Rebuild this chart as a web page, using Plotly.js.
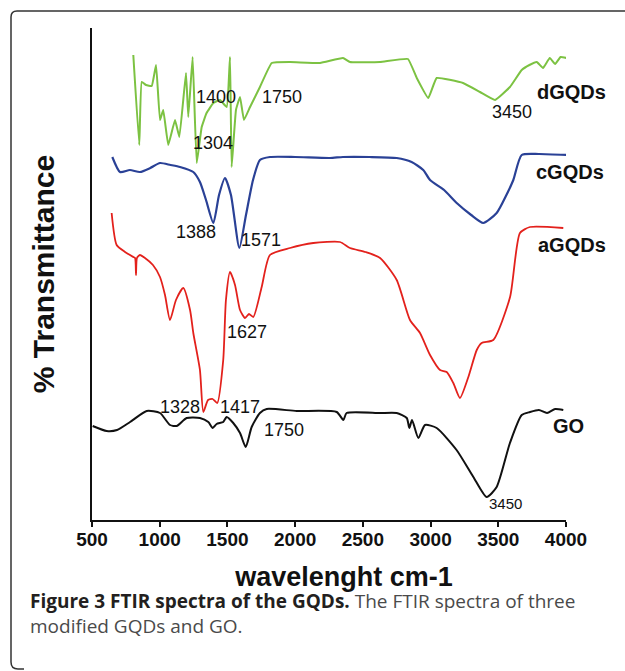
<!DOCTYPE html>
<html>
<head>
<meta charset="utf-8">
<script src="https://cdn.plot.ly/plotly-3.0.1.min.js"></script>
<style>html,body{margin:0;padding:0;background:#fff;}#chart{width:625px;height:671px;}</style>
</head>
<body>
<div id="chart"></div>
<script>
// ---- Data (wavenumber cm-1, transmittance in arbitrary offset units) ----
const dGQDs_wn = [805,849,867,899,941,973,1002,1026,1063,1113,1145,1194,1211,1243,1273,1310,1346,1396,1445,1495,1519,1531,1563,1593,1622,1667,1740,1827,1962,2184,2353,2405,2627,2833,2898,2983,3045,3240,3365,3476,3586,3673,3730,3784,3830,3880,3920,3960,4005];
const dGQDs_T  = [465,375,438,435,434,455,400,410,375,400,383,447,403,463,357,393,407,417,420,413,463,353,410,423,400,413,433,457,458,457,462,458,458,461,442,422,442,437,428,420,433,450,455,458,452,462,456,463,462];

const cGQDs_wn = [650,707,780,854,930,1002,1080,1150,1248,1297,1342,1396,1438,1482,1526,1588,1637,1689,1740,1814,2000,2257,2353,2550,2750,2860,2946,2996,3100,3193,3300,3389,3488,3560,3611,3673,3800,4005];
const cGQDs_T  = [363,348,350,348,352,357,355,353,348,338,320,297,325,342,325,272,305,340,360,363,363,362,363,363,362,358,350,340,330,317,305,297,307,325,340,365,366,365];

const aGQDs_wn = [645,682,744,805,818,825,832,854,891,950,1002,1039,1076,1120,1174,1224,1248,1297,1322,1357,1391,1425,1469,1489,1519,1556,1593,1630,1659,1691,1753,1814,1962,2134,2331,2405,2520,2627,2750,2848,2922,2996,3070,3119,3168,3217,3279,3341,3377,3463,3587,3660,3734,3980];
const aGQDs_T  = [307,275,268,263,262,245,262,265,262,255,243,225,200,220,232,210,187,150,108,120,121,117,160,220,248,235,210,202,206,203,233,265,272,277,278,272,268,262,240,200,187,165,150,148,137,122,143,170,177,180,223,287,293,292];

const GO_wn = [505,609,685,781,904,1002,1076,1125,1199,1297,1359,1391,1420,1469,1494,1543,1593,1635,1679,1740,1790,2011,2307,2356,2380,2627,2750,2824,2843,2863,2910,2959,3045,3192,3316,3414,3488,3586,3673,3734,3800,3860,3920,3980];
const GO_T  = [94,89,90,98,109,107,95,94,102,102,98,92,96,98,103,97,87,73,93,107,111,109,108,100,107,107,107,102,92,100,82,95,92,70,43,23,33,77,105,108,110,107,111,110];

const xTicks = [500,1000,1500,2000,2500,3000,3500,4000];

// Peak labels: [text, wavenumber, T, size]
const peakLabels = [
  ["1400",1416,423,18],["1750",1903,423,18],["1304",1393,377,18],["3450",3601,408,18],
  ["1388",1268,288,18],["1571",1748,280,18],
  ["1627",1645,188,18],
  ["1328",1150,113,18],["1417",1593,113,18],["1750",1918,90,18],["3450",3550,17,15]
];
// Series labels: [text, wavenumber, T]
const seriesLabels = [["dGQDs",4044,428],["cGQDs",4030,348],["aGQDs",4044,275],["GO",4015,94]];

// ---- Layout helpers ----
const W=625,H=671,L=92,R=59,T=28,B=151;
const pw=W-L-R, ph=H-T-B;
const px=x=>(x-L)/pw, py=y=>(H-B-y)/ph;
const X0=500,X1=4000;

const FONT="Arial, 'Liberation Sans', sans-serif";
const traces = [
  {x:GO_wn,y:GO_T,name:"GO",line:{color:"#111111",width:2,shape:"spline",smoothing:0.6}},
  {x:aGQDs_wn,y:aGQDs_T,name:"aGQDs",line:{color:"#e3211c",width:1.8,shape:"spline",smoothing:0.6}},
  {x:cGQDs_wn,y:cGQDs_T,name:"cGQDs",line:{color:"#2a4196",width:2.2,shape:"spline",smoothing:0.6}},
  {x:dGQDs_wn,y:dGQDs_T,name:"dGQDs",line:{color:"#7cc242",width:2,shape:"spline",smoothing:0.3}}
].map(t=>Object.assign({type:"scatter",mode:"lines",hoverinfo:"skip"},t));

const ann = [];
peakLabels.forEach(p=>ann.push({x:p[1],y:p[2],xref:"x",yref:"y",text:p[0],showarrow:false,
  font:{family:FONT,size:p[3],color:"#111"},xanchor:"center",yanchor:"middle"}));
seriesLabels.forEach(p=>ann.push({x:(p[1]-X0)/(X1-X0),y:p[2]/ph,xref:"paper",yref:"paper",text:"<b>"+p[0]+"</b>",showarrow:false,
  font:{family:FONT,size:20,color:"#111"},xanchor:"center",yanchor:"middle"}));
ann.push({x:px(28),y:py(601),xref:"paper",yref:"paper",xanchor:"left",yanchor:"middle",showarrow:false,align:"left",
  text:"<b>Figure 3 FTIR spectra of the GQDs.</b> <span style='color:#4a4a4a'>The FTIR spectra of three</span>",
  font:{family:"'Open Sans', sans-serif",size:19,color:"#231f20"}});
ann.push({x:px(28),y:py(626),xref:"paper",yref:"paper",xanchor:"left",yanchor:"middle",showarrow:false,align:"left",
  text:"modified GQDs and GO.",font:{family:"'Open Sans', sans-serif",size:19,color:"#4a4a4a"}});

const borderPath = `M ${px(11)} ${py(662)} L ${px(11)} ${py(17)} Q ${px(11)} ${py(11)} ${px(17)} ${py(11)} L ${px(626)} ${py(11)}`;
const bottomCorner = `M ${px(11)} ${py(662)} Q ${px(11)} ${py(669)} ${px(18)} ${py(669)} L ${px(24)} ${py(669)}`;

const layout = {
  width:W,height:H,margin:{l:L,r:R,t:T,b:B},
  paper_bgcolor:"#fff",plot_bgcolor:"#fff",showlegend:false,
  xaxis:{range:[X0,X1],tickvals:xTicks,ticktext:xTicks.map(String),showgrid:false,zeroline:false,
    showline:true,linecolor:"#111",linewidth:2,ticks:"outside",ticklen:5,tickwidth:2,tickcolor:"#111",
    ticklabelstandoff:-4,
    tickfont:{family:FONT,size:19,color:"#111",weight:"bold"},
    title:{text:"&nbsp;&nbsp;&nbsp;&nbsp;<b>wavelenght cm-1</b>",font:{family:FONT,size:27,color:"#111"},standoff:18}},
  yaxis:{range:[0,ph],showgrid:false,zeroline:false,showticklabels:false,ticks:"",
    showline:true,linecolor:"#111",linewidth:2,
    title:{text:"<b>% Transmittance</b>",font:{family:FONT,size:30,color:"#111"},standoff:27}},
  annotations:ann,
  shapes:[
    {type:"path",xref:"paper",yref:"paper",path:borderPath,line:{color:"#333",width:1.5}},
    {type:"path",xref:"paper",yref:"paper",path:bottomCorner,line:{color:"#333",width:1.5}}
  ]
};
Plotly.newPlot("chart",traces,layout,{displayModeBar:false,staticPlot:true});
</script>
</body>
</html>
